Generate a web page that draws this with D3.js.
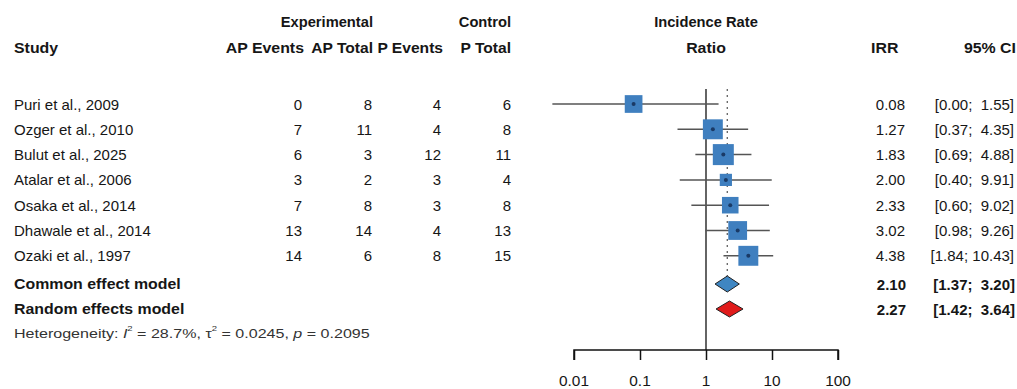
<!DOCTYPE html>
<html><head><meta charset="utf-8">
<script src="https://cdn.jsdelivr.net/npm/d3@7"></script>
<style>
html,body{margin:0;padding:0;background:#fff;}
svg text{font-family:"Liberation Sans",Arial,Helvetica,sans-serif;fill:#161616;white-space:pre;}
</style></head>
<body><svg id="c" width="1017" height="389"></svg>
<script>
const studies = ["Puri et al., 2009","Ozger et al., 2010","Bulut et al., 2025","Atalar et al., 2006","Osaka et al., 2014","Dhawale et al., 2014","Ozaki et al., 1997"];
const apEvents = [0,7,6,3,7,13,14];
const apTotal = [8,11,3,2,8,14,6];
const pEvents = [4,4,12,3,3,4,8];
const pTotal = [6,8,11,4,8,13,15];
const irr = [0.08,1.27,1.83,2.00,2.33,3.02,4.38];
const ciLow = [0.0047,0.37,0.69,0.40,0.60,0.98,1.84];
const ciHigh = [1.55,4.35,4.88,9.91,9.02,9.26,10.43];
const weights = [13.5,17.1,19.0,6.4,11.8,15.2,17.1];
const modelNames = ["Common effect model","Random effects model"];
const modelEst = [2.10,2.27];
const modelLow = [1.37,1.42];
const modelHigh = [3.20,3.64];
const tickValues = [0.01,0.1,1,10,100];
const tickLabels = ["0.01","0.1","1","10","100"];
const heterogeneity = {i2:"28.7%", tau2:"0.0245", p:"0.2095"};

const svg = d3.select("#c");
const x = d3.scaleLog().domain([0.01,100]).range([574,838]);
const rowY = d3.scaleLinear().domain([0,1]).range([104,129.3]);
const modelY = [284,309];
const hetY = 333;
const sizeScale = d3.scaleSqrt().domain([0,19]).range([0,21]);

function txt(g, xx, yy, s, opt={}) {
  const sx = opt.sx || (opt.bold ? 1.06 : 1.0);
  const t = g.append("text")
    .attr("transform",`translate(${xx},${yy}) scale(${sx},1)`)
    .attr("text-anchor",opt.anchor||"start")
    .attr("dominant-baseline","central")
    .style("font-size",(opt.size||15)+"px")
    .style("font-weight",opt.bold?"bold":"normal")
    .text(s);
  if (opt.fill) t.style("fill",opt.fill);
  return t;
}

const g = svg.append("g");
// headers
txt(g,373,22,"Experimental",{anchor:"end",bold:true,sx:0.98});
txt(g,511,22,"Control",{anchor:"end",bold:true,sx:0.98});
txt(g,706,22,"Incidence Rate",{anchor:"middle",bold:true,sx:0.98});
txt(g,14,48,"Study",{bold:true});
txt(g,304,48,"AP Events",{anchor:"end",bold:true,sx:1.06});
txt(g,373,48,"AP Total",{anchor:"end",bold:true,sx:1.04});
txt(g,443,48,"P Events",{anchor:"end",bold:true,sx:1.04});
txt(g,511,48,"P Total",{anchor:"end",bold:true,sx:1.04});
txt(g,706,48,"Ratio",{anchor:"middle",bold:true});
txt(g,871,48,"IRR",{bold:true});
txt(g,1016,48,"95% CI",{anchor:"end",bold:true});

const f2 = d3.format(".2f");
function ciStr(lo,hi){ return "[" + f2(lo).padStart(4," ") + "; " + f2(hi).padStart(5," ") + "]"; }

studies.forEach((s,i)=>{
  const y = rowY(i);
  txt(g,14,y,s);
  txt(g,302,y,String(apEvents[i]),{anchor:"end"});
  txt(g,372,y,String(apTotal[i]),{anchor:"end"});
  txt(g,441,y,String(pEvents[i]),{anchor:"end"});
  txt(g,511,y,String(pTotal[i]),{anchor:"end"});
  txt(g,905,y,f2(irr[i]),{anchor:"end"});
  txt(g,1014,y,ciStr(ciLow[i],ciHigh[i]),{anchor:"end"});
});
modelNames.forEach((s,i)=>{
  const y = modelY[i];
  txt(g,14,y,s,{bold:true});
  txt(g,906,y,f2(modelEst[i]),{anchor:"end",bold:true,sx:1.0});
  txt(g,1015,y,ciStr(modelLow[i],modelHigh[i]),{anchor:"end",bold:true,sx:1.0});
});
// heterogeneity
const ht = g.append("text")
  .attr("transform",`translate(14,${hetY}) scale(1.19,1)`)
  .attr("dominant-baseline","central")
  .style("font-size","13.5px").style("fill","#333");
ht.append("tspan").text("Heterogeneity: ");
ht.append("tspan").style("font-style","italic").text("I");
ht.append("tspan").attr("dy",-5).style("font-size","8px").text("2");
ht.append("tspan").attr("dy",5).text(" = " + heterogeneity.i2 + ", τ");
ht.append("tspan").attr("dy",-5).style("font-size","8px").text("2");
ht.append("tspan").attr("dy",5).text(" = " + heterogeneity.tau2 + ", ");
ht.append("tspan").style("font-style","italic").text("p");
ht.append("tspan").text(" = " + heterogeneity.p);

// forest plot
const fp = svg.append("g");
fp.append("line").attr("x1",x(1)).attr("x2",x(1)).attr("y1",89).attr("y2",350)
  .attr("stroke","#111").attr("stroke-width",1.3);
fp.append("line").attr("x1",x(modelEst[0])).attr("x2",x(modelEst[0])).attr("y1",89).attr("y2",modelY[0]-8)
  .attr("stroke","#555").attr("stroke-width",1.2).attr("stroke-dasharray","2,4");

studies.forEach((s,i)=>{
  const y = rowY(i);
  fp.append("line").attr("x1",x(ciLow[i])).attr("x2",x(ciHigh[i])).attr("y1",y).attr("y2",y)
    .attr("stroke","#555").attr("stroke-width",1.5);
  const sz = sizeScale(weights[i]);
  fp.append("rect").attr("x",x(irr[i])-sz/2).attr("y",y-sz/2).attr("width",sz).attr("height",sz)
    .attr("fill","#3f7fbf");
  fp.append("circle").attr("cx",x(irr[i])).attr("cy",y).attr("r",2).attr("fill","#1a3a66");
});
const dcol = ["#3f86c2","#e01b1b"];
modelNames.forEach((s,i)=>{
  const y = modelY[i], h = 8;
  const pts = [[x(modelLow[i]),y],[x(modelEst[i]),y-h],[x(modelHigh[i]),y],[x(modelEst[i]),y+h]];
  fp.append("polygon").attr("points",pts.map(p=>p.join(",")).join(" "))
    .attr("fill",dcol[i]).attr("stroke","#222").attr("stroke-width",1);
});

// axis
const ax = svg.append("g").attr("transform","translate(0,350)")
  .call(d3.axisBottom(x).tickValues(tickValues).tickSize(10).tickFormat(""));
ax.select(".domain").attr("stroke","#111").attr("stroke-width",1.5).attr("d",`M${x(0.01)},10V0H${x(100)}V10`);
ax.selectAll(".tick line").attr("stroke","#111").attr("stroke-width",1.5);
tickValues.forEach((v,i)=>{ txt(svg,x(v),381,tickLabels[i],{anchor:"middle",size:14,sx:1.1}); });
</script>
</body></html>
